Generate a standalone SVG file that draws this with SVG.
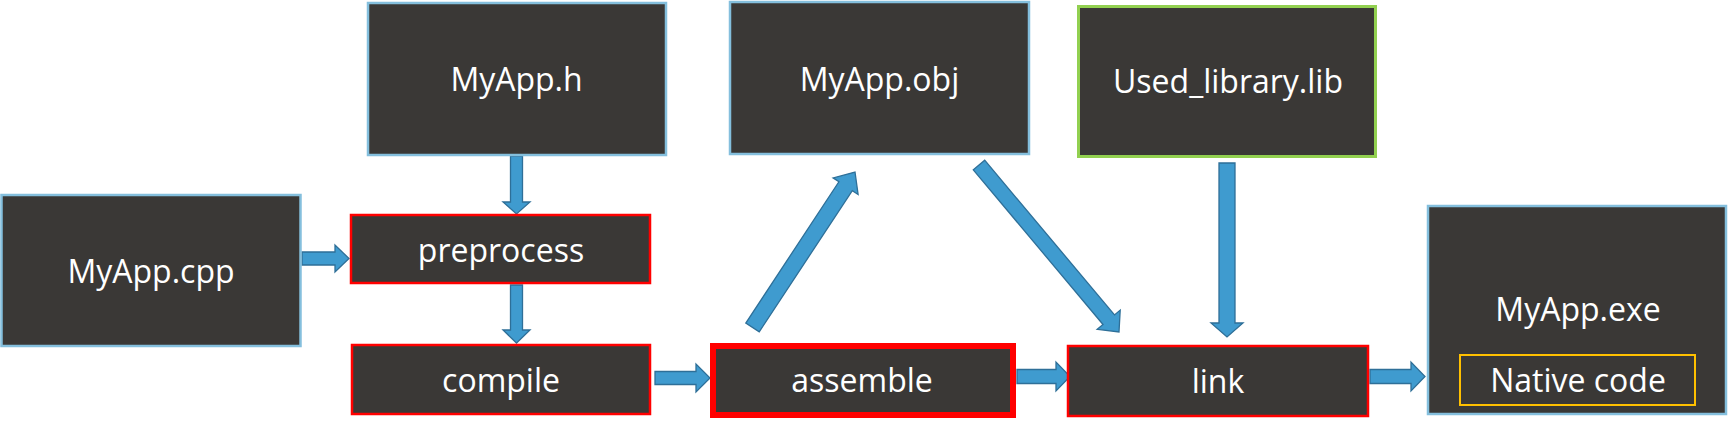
<svg xmlns="http://www.w3.org/2000/svg" width="1728" height="427" viewBox="0 0 1728 427">
<style>
.box{fill:#3A3836;stroke-width:2.5}
.blue{stroke:#84BFDD}
.red{stroke:#FF0000}
.green{stroke:#92D050;stroke-width:3}
.thick{stroke:#FF0000;stroke-width:6}
.inner{fill:none;stroke:#FFC000;stroke-width:2}
.lbl{font-family:"Open Sans","Noto Sans","Liberation Sans",sans-serif;font-size:32px;fill:#FFFFFF;text-anchor:middle}
.arr{fill:#3F9BCF;stroke:#2E6F98;stroke-width:1.3;stroke-linejoin:miter}
</style>
<rect width="1728" height="427" fill="#FFFFFF"/>
<g id="connectors">
<polygon class="arr" points="510.5,156 522.5,156 522.5,202 530,202 516.5,214 503,202 510.5,202"/>
<polygon class="arr" points="510.5,285 522.5,285 522.5,330 530,330 516.5,343 503,330 510.5,330"/>
<polygon class="arr" points="302,252 335,252 335,245 349,258.5 335,272 335,265 302,265"/>
<polygon class="arr" points="655,371.5 696,371.5 696,364 710,378 696,392 696,384.5 655,384.5"/>
<polygon class="arr" points="759.2,331.9 852.3,190.6 858.1,194.5 855,172 833.1,177.9 838.9,181.8 745.8,323.1"/>
<polygon class="arr" points="984.7,160.2 1114.5,314.9 1120.2,310.1 1119,332 1097.2,329.3 1103,324.5 973.3,169.8"/>
<polygon class="arr" points="1219,163 1235,163 1235,323 1243,323 1227,337 1211,323 1219,323"/>
<polygon class="arr" points="1017,369.5 1056,369.5 1056,362 1070,376.5 1056,391 1056,383.5 1017,383.5"/>
<polygon class="arr" points="1370,369.5 1411,369.5 1411,362 1425,376.5 1411,391 1411,383.5 1370,383.5"/>
</g>
<g id="node-myapp-h">
<rect class="box blue" x="368" y="3" width="298" height="152"/>
<text class="lbl" x="516.5" y="91">MyApp.h</text>
</g>
<g id="node-myapp-obj">
<rect class="box blue" x="730" y="2" width="299" height="152"/>
<text class="lbl" x="879.5" y="91">MyApp.obj</text>
</g>
<g id="node-used-library">
<rect class="box green" x="1078.5" y="6.5" width="297" height="150"/>
<text class="lbl" x="1228" y="93">Used_library.lib</text>
</g>
<g id="node-myapp-cpp">
<rect class="box blue" x="1.5" y="195" width="299" height="151"/>
<text class="lbl" x="151" y="283">MyApp.cpp</text>
</g>
<g id="node-preprocess">
<rect class="box red" x="351" y="215" width="299" height="68"/>
<text class="lbl" x="501" y="262">preprocess</text>
</g>
<g id="node-compile">
<rect class="box red" x="352" y="345" width="298" height="69"/>
<text class="lbl" x="501" y="392">compile</text>
</g>
<g id="node-assemble">
<rect class="box thick" x="713" y="346" width="300" height="69"/>
<text class="lbl" x="862" y="392">assemble</text>
</g>
<g id="node-link">
<rect class="box red" x="1068" y="346" width="300" height="70"/>
<text class="lbl" x="1218" y="393">link</text>
</g>
<g id="node-myapp-exe">
<rect class="box blue" x="1428" y="206" width="298" height="208"/>
<text class="lbl" x="1578" y="321">MyApp.exe</text>
<rect class="inner" x="1460" y="355" width="235" height="50"/>
<text class="lbl" x="1578" y="392">Native code</text>
</g>
</svg>
